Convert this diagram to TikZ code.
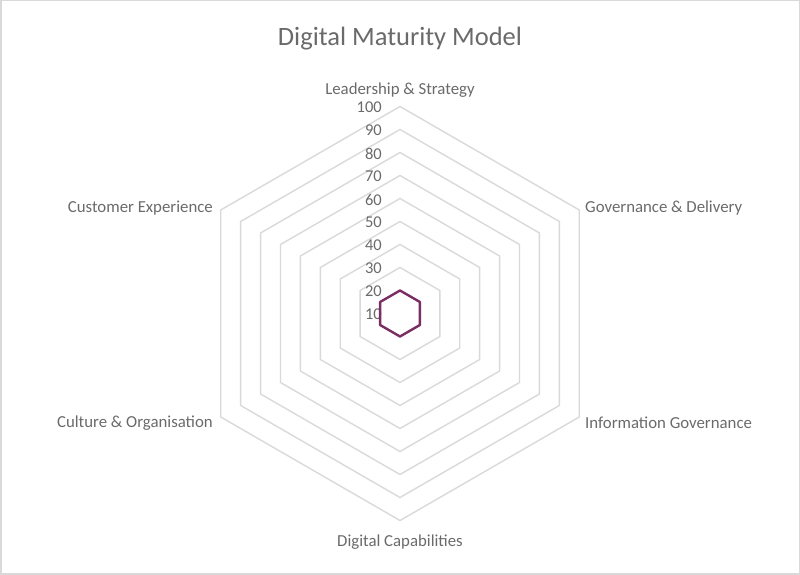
\documentclass[tikz,border=0pt]{standalone}
\usepackage{fontspec}
\setmainfont{Carlito}
\usetikzlibrary{calc}
\definecolor{txtgray}{HTML}{6A6A6A}
\definecolor{gridgray}{HTML}{D9D9D9}
\definecolor{datapurple}{HTML}{7A2E62}
\tikzset{
  ring/.style={draw=gridgray, line width=1.4pt},
  axislabel/.style={text=txtgray, font=\fontsize{16.8}{20}\selectfont, inner sep=0pt},
  ticklabel/.style={text=txtgray, font=\fontsize{16.5}{19}\selectfont, anchor=east, inner sep=0pt}
}
\begin{document}
\begin{tikzpicture}[x=1pt,y=1pt]
            \useasboundingbox (0,0) rectangle (800,575);
            \draw[gridgray, line width=1.5pt] (0.75,0.75) rectangle (799.25,574.25);
            \coordinate (O) at (400,261.5);
            \foreach \v in {20,30,...,100}
                \draw[ring] ($(O)+(90:{(\v-10)*2.3})$) -- ($(O)+(30:{(\v-10)*2.3})$) -- ($(O)+(-30:{(\v-10)*2.3})$)
                    -- ($(O)+(-90:{(\v-10)*2.3})$) -- ($(O)+(210:{(\v-10)*2.3})$) -- ($(O)+(150:{(\v-10)*2.3})$) -- cycle;
            \foreach \v in {10,20,...,100}
                \node[ticklabel] (t\v) at (382,{260.5+(\v-10)*2.3}) {\v};
            \draw[datapurple, line width=2.4pt, line join=round]
                ($(O)+(90:23)$) -- ($(O)+(30:23)$) -- ($(O)+(-30:23)$)
                -- ($(O)+(-90:23)$) -- ($(O)+(210:23)$) -- ($(O)+(150:23)$) -- cycle;
            \node[axislabel] (lead) at (400,485) {Leadership \& Strategy};
            \node[axislabel, anchor=west] (gov) at (585,367) {Governance \& Delivery};
            \node[axislabel, anchor=west] (info) at (585,152) {Information Governance};
            \node[axislabel] (cap) at (400,33) {Digital Capabilities};
            \node[axislabel, anchor=east] (cult) at (213,152) {Culture \& Organisation};
            \node[axislabel, anchor=east] (cust) at (213,367) {Customer Experience};
            \node[text=txtgray, font=\fontsize{26.5}{30}\selectfont] (title) at (400,536) {Digital Maturity Model};
        \end{tikzpicture}
\end{document}
